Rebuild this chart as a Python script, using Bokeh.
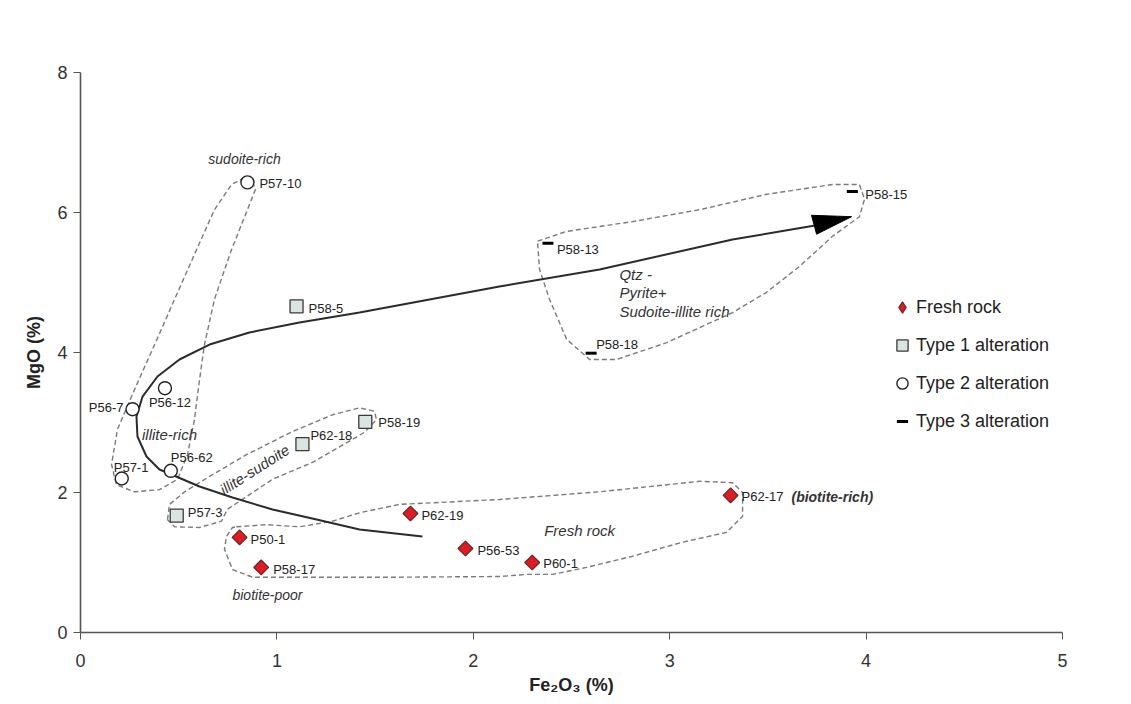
import math
from bokeh.plotting import figure
from bokeh.models import Range1d, ColumnDataSource, Legend, LegendItem, FixedTicker
from bokeh.embed import file_html
from bokeh.resources import INLINE
from bokeh.core.properties import value

FONT = "Liberation Sans"

# ---------------- data ----------------
fresh_names = ["P50-1", "P58-17", "P62-19", "P56-53", "P60-1", "P62-17"]
fresh_x = [0.81, 0.92, 1.68, 1.96, 2.30, 3.31]
fresh_y = [1.36, 0.93, 1.70, 1.20, 1.00, 1.96]

type1_names = ["P57-3", "P62-18", "P58-19", "P58-5"]
type1_x = [0.49, 1.13, 1.45, 1.10]
type1_y = [1.67, 2.69, 3.01, 4.66]

type2_names = ["P57-10", "P56-7", "P56-12", "P57-1", "P56-62"]
type2_x = [0.85, 0.265, 0.43, 0.21, 0.46]
type2_y = [6.43, 3.19, 3.49, 2.20, 2.31]

type3_names = ["P58-13", "P58-18", "P58-15"]
type3_x = [2.38, 2.60, 3.93]
type3_y = [5.56, 3.99, 6.30]

x_ticks = [0, 1, 2, 3, 4, 5]
y_ticks = [0, 2, 4, 6, 8]

# envelopes (data units)
env_illite_x = [0.835, 0.769, 0.682, 0.580, 0.479, 0.377, 0.275, 0.188, 0.158, 0.183, 0.275, 0.402,
                0.494, 0.545, 0.580, 0.606, 0.631, 0.682, 0.769, 0.850, 0.891, 0.871, 0.835]
env_illite_y = [6.50, 6.40, 6.04, 5.40, 4.76, 4.11, 3.47, 2.90, 2.40, 2.11, 2.01, 2.04,
                2.19, 2.54, 3.04, 3.61, 4.11, 4.76, 5.47, 6.04, 6.33, 6.47, 6.50]

env_sudoite_x = [0.443, 0.453, 0.530, 0.657, 0.845, 1.079, 1.283, 1.421, 1.497, 1.507, 1.446, 1.181,
                 0.978, 0.845, 0.748, 0.718, 0.606, 0.479, 0.443]
env_sudoite_y = [1.61, 1.83, 2.01, 2.23, 2.54, 2.87, 3.11, 3.21, 3.16, 3.04, 2.86, 2.43,
                 2.19, 1.94, 1.76, 1.59, 1.50, 1.51, 1.61]

env_fresh_x = [0.794, 0.947, 1.115, 1.283, 1.421, 1.624, 2.133, 2.643, 3.152, 3.320, 3.371, 3.371,
               3.289, 3.065, 2.811, 2.576, 2.403, 2.271, 2.133, 1.624, 1.283, 0.876, 0.774, 0.733,
               0.743, 0.774, 0.794]
env_fresh_y = [1.51, 1.54, 1.51, 1.59, 1.71, 1.83, 1.90, 2.01, 2.16, 2.14, 2.00, 1.66,
               1.43, 1.29, 1.09, 0.93, 0.83, 0.83, 0.80, 0.79, 0.79, 0.79, 0.90, 1.19,
               1.37, 1.50, 1.51]

env_qtz_x = [2.327, 2.475, 2.811, 3.152, 3.493, 3.829, 3.966, 3.992, 3.966, 3.829, 3.661, 3.493,
             3.320, 2.984, 2.729, 2.592, 2.475, 2.388, 2.337, 2.327]
env_qtz_y = [5.59, 5.73, 5.87, 6.04, 6.26, 6.40, 6.40, 6.19, 5.94, 5.66, 5.23, 4.86,
             4.57, 4.14, 3.90, 3.90, 4.19, 4.76, 5.19, 5.59]

trend_x = [1.741, 1.421, 1.202, 0.978, 0.774, 0.606, 0.463, 0.402, 0.336, 0.290, 0.285, 0.316,
           0.392, 0.504, 0.657, 0.860, 1.115, 1.421, 2.133, 2.643, 3.320, 3.740]
trend_y = [1.371, 1.471, 1.614, 1.757, 1.929, 2.086, 2.257, 2.329, 2.514, 2.800, 3.086, 3.371,
           3.657, 3.900, 4.114, 4.286, 4.429, 4.571, 4.943, 5.186, 5.614, 5.814]
head_x = [3.722, 3.926, 3.748]
head_y = [5.96, 5.94, 5.69]

# label placement (pixel offsets, alignment) - styling only
label_style = {
    "P50-1": (11, 2, "left"), "P58-17": (12, 2, "left"), "P62-19": (11, 2, "left"),
    "P56-53": (12, 2, "left"), "P60-1": (11, 1, "left"), "P62-17": (11, 1, "left"),
    "P57-3": (11, -3, "left"), "P62-18": (8, -9, "left"), "P58-19": (13, 1, "left"),
    "P58-5": (12, 2, "left"), "P57-10": (12, 1, "left"), "P56-7": (-9, -2, "right"),
    "P56-12": (-16, 14, "left"), "P57-1": (-8, -11, "left"), "P56-62": (0, -13, "left"),
    "P58-13": (9, 6, "left"), "P58-18": (5, -9, "left"), "P58-15": (13, 3, "left"),
}

# ---------------- figure ----------------
p = figure(frame_width=982, frame_height=560, x_range=Range1d(0, 5), y_range=Range1d(0, 8),
           output_backend="svg", toolbar_location=None,
           min_border_left=80, min_border_right=45, min_border_top=72, min_border_bottom=60)
p.outline_line_color = None
p.xgrid.visible = False
p.ygrid.visible = False
p.background_fill_color = "white"

for ax in (p.xaxis[0], p.yaxis[0]):
    ax.axis_line_color = "#555555"
    ax.axis_line_width = 1.6
    ax.major_tick_line_color = "#555555"
    ax.major_tick_in = 0
    ax.major_tick_out = 7
    ax.minor_tick_line_color = None
    ax.major_label_text_font = FONT
    ax.major_label_text_font_size = "18px"
    ax.major_label_text_color = "#333333"
    ax.axis_label_text_font = FONT
    ax.axis_label_text_font_style = "bold"
    ax.axis_label_text_font_size = "18px"
    ax.axis_label_text_color = "#222222"

p.xaxis.ticker = FixedTicker(ticks=x_ticks)
p.yaxis.ticker = FixedTicker(ticks=y_ticks)
p.xaxis.axis_label = "Fe₂O₃ (%)"
p.yaxis.axis_label = "MgO (%)"
p.xaxis.major_label_standoff = 14
p.yaxis.major_label_standoff = 6
p.xaxis.axis_label_standoff = 5
p.yaxis.axis_label_standoff = 10

# envelopes
for ex, ey in [(env_illite_x, env_illite_y), (env_sudoite_x, env_sudoite_y),
               (env_fresh_x, env_fresh_y), (env_qtz_x, env_qtz_y)]:
    p.line(ex, ey, line_color="#7a7a7a", line_width=1.4, line_dash="5 3")

# trend arrow
p.line(trend_x, trend_y, line_color="#2b2b2b", line_width=2)
p.patch(head_x, head_y, fill_color="black", line_color="black")

# markers
r_fresh = p.scatter(fresh_x, fresh_y, marker="square", angle=math.pi / 4, size=10.5,
                    fill_color="#e01b24", line_color="#5a2a2a", line_width=1.2)
r_t1 = p.scatter(type1_x, type1_y, marker="square", size=13, fill_color="#d9e5de",
                 line_color="#3a3a3a", line_width=1.3)
r_t2 = p.scatter(type2_x, type2_y, marker="circle", size=13, fill_color="white",
                 line_color="#222222", line_width=1.4)
r_t3 = p.scatter(type3_x, type3_y, marker="dash", size=11, line_color="black", line_width=3)
# hidden twin used only to draw a diamond symbol in the legend
r_fresh_leg = p.scatter(fresh_x, fresh_y, marker="diamond", size=10,
                        fill_color="#e01b24", line_color="#5a2a2a", line_width=1.2, visible=False)

# point labels
names = fresh_names + type1_names + type2_names + type3_names
lx = fresh_x + type1_x + type2_x + type3_x
ly = fresh_y + type1_y + type2_y + type3_y
src = ColumnDataSource(dict(
    x=lx, y=ly, text=names,
    xo=[label_style[n][0] for n in names],
    yo=[label_style[n][1] for n in names],
    al=[label_style[n][2] for n in names],
))
p.text(x="x", y="y", text="text", x_offset="xo", y_offset="yo", text_align="al",
       text_baseline="middle", text_font=value(FONT), text_font_size="13px",
       text_color="#222222", source=src)

# italic annotations
def note(x, y, t, size="15px", align="center", angle=0.0, style="italic"):
    p.text(x=[x], y=[y], text=[t], text_align=align, text_baseline="middle", angle=angle,
           text_font=value(FONT), text_font_size=size, text_font_style=style,
           text_color="#333333")

note(0.835, 6.76, "sudoite-rich", size="14px")
note(0.453, 2.83, "illite-rich", size="15px")
note(0.886, 2.33, "illite-sudoite", size="15px", angle=0.57)
note(2.541, 1.46, "Fresh rock", size="15px")
note(0.952, 0.53, "biotite-poor", size="14px")
note(2.744, 5.11, "Qtz -", size="15px", align="left")
note(2.744, 4.86, "Pyrite+", size="15px", align="left")
note(2.744, 4.59, "Sudoite-illite rich", size="15px", align="left")
note(3.62, 1.94, "(biotite-rich)", size="14px", align="left", style="bold italic")

# legend
legend = Legend(items=[
    LegendItem(label="Fresh rock", renderers=[r_fresh_leg]),
    LegendItem(label="Type 1 alteration", renderers=[r_t1]),
    LegendItem(label="Type 2 alteration", renderers=[r_t2]),
    LegendItem(label="Type 3 alteration", renderers=[r_t3]),
], location=(808, 196))
legend.border_line_color = None
legend.background_fill_alpha = 0
legend.inactive_fill_alpha = 0
legend.padding = 0
legend.margin = 0
legend.spacing = 8
legend.glyph_width = 28
legend.glyph_height = 30
legend.label_height = 30
legend.label_standoff = -4
legend.label_text_font = FONT
legend.label_text_font_size = "18px"
legend.label_text_color = "#222222"
p.add_layout(legend, "center")

open("out.html", "w").write(file_html(p, INLINE))
